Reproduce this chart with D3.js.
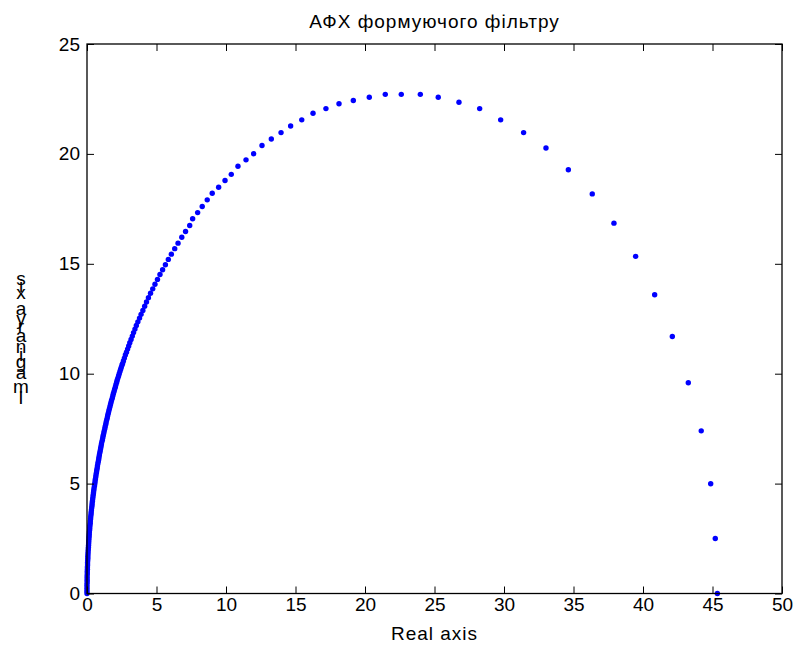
<!DOCTYPE html>
<html>
<head>
<meta charset="utf-8">
<script src="https://cdn.jsdelivr.net/npm/d3@7"></script>
<style>
  html, body { margin: 0; padding: 0; background: #fff; }
  svg { display: block; }
  text { font-family: "Liberation Sans Narrow", "Arial Narrow", "Liberation Sans", Arial, sans-serif; fill: #000; }
</style>
</head>
<body>
<svg id="chart" width="796" height="648"></svg>
<script>
// ---- data ----
const chartTitle = "АФХ формуючого фільтру";
const xLabel = "Real axis";
const yLabel = "Imaginary axis";
const xTicks = [0, 5, 10, 15, 20, 25, 30, 35, 40, 45, 50];
const yTicks = [0, 5, 10, 15, 20, 25];

// separate, clearly visible points
const realSparse = [45.35, 45.20, 44.87, 44.19, 43.26, 42.11, 40.84, 39.47, 37.91, 36.35,
  34.63, 33.02, 31.41, 29.76, 28.25, 26.76, 25.27, 23.98, 22.61, 21.46,
  20.31, 19.16, 18.13, 17.19, 16.26, 15.45, 14.65, 13.96, 13.26, 12.59,
  11.99, 11.44, 10.86, 10.38, 9.93, 9.47, 9.01, 8.65, 8.29, 7.96, 7.60,
  7.39, 7.09, 6.82, 6.55, 6.31, 6.07, 5.85, 5.64, 5.44, 5.25,
  5.07, 4.89, 4.73, 4.57, 4.42, 4.28, 4.15, 4.02, 3.89, 3.78,
  3.66, 3.55, 3.45, 3.35, 3.26, 3.17, 3.08, 3.00, 2.92, 2.84,
  2.76, 2.69, 2.62, 2.56];
const imagSparse = [0, 2.50, 4.99, 7.40, 9.59, 11.69, 13.59, 15.34, 16.85, 18.18,
  19.28, 20.27, 20.97, 21.55, 22.06, 22.35, 22.58, 22.71, 22.71, 22.71,
  22.58, 22.43, 22.28, 22.06, 21.85, 21.55, 21.27, 20.97, 20.68, 20.38,
  20.01, 19.73, 19.44, 19.07, 18.79, 18.48, 18.21, 17.91, 17.61, 17.33, 17.05,
  16.74, 16.47, 16.21, 15.94, 15.69, 15.44, 15.20, 14.96, 14.73, 14.51,
  14.29, 14.07, 13.86, 13.66, 13.46, 13.26, 13.07, 12.88, 12.70, 12.53,
  12.36, 12.19, 12.03, 11.87, 11.71, 11.56, 11.41, 11.26, 11.12, 10.98,
  10.85, 10.71, 10.58, 10.46];

// dense run of points near the origin (merges into a solid line)
const realDense = [2.52, 2.47, 2.42, 2.37, 2.32, 2.27, 2.22, 2.17, 2.13, 2.08,
  2.04, 1.99, 1.95, 1.90, 1.86, 1.82, 1.77, 1.73, 1.69, 1.65,
  1.61, 1.57, 1.53, 1.49, 1.46, 1.42, 1.38, 1.35, 1.31, 1.28,
  1.24, 1.21, 1.17, 1.14, 1.11, 1.07, 1.04, 1.01, 0.98, 0.95,
  0.92, 0.89, 0.86, 0.84, 0.81, 0.78, 0.75, 0.73, 0.70, 0.68,
  0.65, 0.63, 0.60, 0.58, 0.56, 0.54, 0.51, 0.49, 0.47, 0.45,
  0.43, 0.41, 0.39, 0.37, 0.36, 0.34, 0.32, 0.30, 0.29, 0.27,
  0.26, 0.24, 0.23, 0.21, 0.20, 0.19, 0.17, 0.16, 0.15, 0.14,
  0.13, 0.12, 0.11, 0.10, 0.09, 0.08, 0.07, 0.06, 0.06, 0.05,
  0.04, 0.04, 0.03, 0.03, 0.02, 0.02, 0.01, 0.01, 0.01, 0.01,
  0.00, 0.00, 0.00, 0.00, 0.00];
const imagDense = [10.4, 10.3, 10.2, 10.1, 10.0, 9.9, 9.8, 9.7, 9.6, 9.5,
  9.4, 9.3, 9.2, 9.1, 9.0, 8.9, 8.8, 8.7, 8.6, 8.5,
  8.4, 8.3, 8.2, 8.1, 8.0, 7.9, 7.8, 7.7, 7.6, 7.5,
  7.4, 7.3, 7.2, 7.1, 7.0, 6.9, 6.8, 6.7, 6.6, 6.5,
  6.4, 6.3, 6.2, 6.1, 6.0, 5.9, 5.8, 5.7, 5.6, 5.5,
  5.4, 5.3, 5.2, 5.1, 5.0, 4.9, 4.8, 4.7, 4.6, 4.5,
  4.4, 4.3, 4.2, 4.1, 4.0, 3.9, 3.8, 3.7, 3.6, 3.5,
  3.4, 3.3, 3.2, 3.1, 3.0, 2.9, 2.8, 2.7, 2.6, 2.5,
  2.4, 2.3, 2.2, 2.1, 2.0, 1.9, 1.8, 1.7, 1.6, 1.5,
  1.4, 1.3, 1.2, 1.1, 1.0, 0.9, 0.8, 0.7, 0.6, 0.5,
  0.4, 0.3, 0.2, 0.1, 0.0];

// ---- layout ----
const W = 796, H = 648;
const plot = { left: 87, right: 782, top: 44, bottom: 593.5 };
const fontSize = 19;

const svg = d3.select("#chart");
svg.append("rect").attr("width", W).attr("height", H).attr("fill", "#fff");

const x = d3.scaleLinear().domain([0, 50]).range([plot.left, plot.right]);
const y = d3.scaleLinear().domain([0, 25]).range([plot.bottom, plot.top]);

const points = realSparse.map((r, i) => ({ re: r, im: imagSparse[i] }))
  .concat(realDense.map((r, i) => ({ re: r, im: imagDense[i] })));

// data points
svg.append("g").selectAll("circle").data(points).join("circle")
  .attr("cx", d => x(d.re))
  .attr("cy", d => y(d.im))
  .attr("r", 2.7)
  .attr("fill", "#0000ff");

// axes
const tick = 7;
function styleAxis(g) {
  g.select(".domain").remove();
  g.selectAll(".tick line").attr("stroke", "#000").attr("stroke-width", 1);
  g.selectAll("text").style("font-size", fontSize + "px").attr("fill", "#000");
}
svg.append("g").attr("transform", `translate(0,${plot.bottom})`)
  .call(d3.axisBottom(x).tickValues(xTicks).tickFormat(d3.format("d"))
    .tickSizeInner(-tick).tickSizeOuter(0).tickPadding(4))
  .call(styleAxis);
svg.append("g").attr("transform", `translate(0,${plot.top})`)
  .call(d3.axisTop(x).tickValues(xTicks).tickFormat("")
    .tickSizeInner(-tick).tickSizeOuter(0))
  .call(styleAxis);
svg.append("g").attr("transform", `translate(${plot.left},0)`)
  .call(d3.axisLeft(y).tickValues(yTicks).tickFormat(d3.format("d"))
    .tickSizeInner(-tick).tickSizeOuter(0).tickPadding(7))
  .call(styleAxis);
svg.append("g").attr("transform", `translate(${plot.right},0)`)
  .call(d3.axisRight(y).tickValues(yTicks).tickFormat("")
    .tickSizeInner(-tick).tickSizeOuter(0))
  .call(styleAxis);

// box
svg.append("rect")
  .attr("x", plot.left).attr("y", plot.top)
  .attr("width", plot.right - plot.left).attr("height", plot.bottom - plot.top)
  .attr("fill", "none").attr("stroke", "#000").attr("stroke-width", 1.3);

// title
svg.append("text")
  .attr("x", (plot.left + plot.right) / 2).attr("y", 28)
  .attr("text-anchor", "middle").style("font-size", fontSize + "px")
  .style("letter-spacing", "1px")
  .text(chartTitle);

// x label
svg.append("text")
  .attr("x", (plot.left + plot.right) / 2).attr("y", 640)
  .attr("text-anchor", "middle").style("font-size", fontSize + "px")
  .style("letter-spacing", "1px")
  .text(xLabel);

// y label: glyphs stacked upright along the vertical, as in the reference
const chars = Array.from(yLabel);
const meas = svg.append("text").style("font-size", fontSize + "px").attr("opacity", 0);
const centers = chars.map((c, i) => {
  meas.text(chars.slice(0, i).join(""));
  const pre = i === 0 ? 0 : meas.node().getComputedTextLength();
  meas.text(c === " " ? "\u00a0" : c);
  const w = meas.node().getComputedTextLength();
  return pre + w / 2;
});
meas.remove();
const yBottom = 397, yTop = 278;
const span = centers[centers.length - 1] - centers[0];
svg.append("g").selectAll("text").data(chars).join("text")
  .attr("x", 21)
  .attr("y", (d, i) => yBottom - (centers[i] - centers[0]) * (yBottom - yTop) / span)
  .attr("dy", "0.36em")
  .attr("text-anchor", "middle")
  .style("font-size", fontSize + "px")
  .text(d => d);
</script>
</body>
</html>
